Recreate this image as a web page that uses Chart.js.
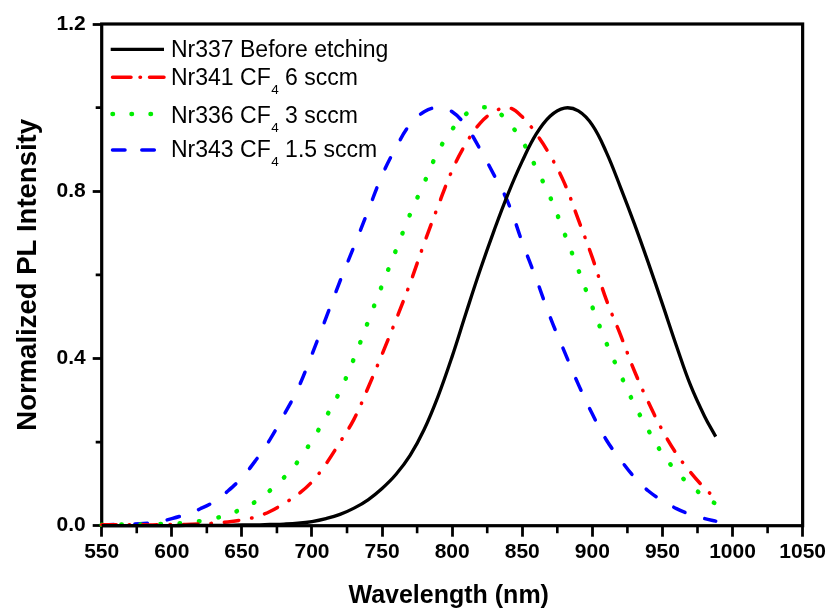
<!DOCTYPE html>
<html><head><meta charset="utf-8">
<script src="https://cdn.jsdelivr.net/npm/chart.js@4.4.0/dist/chart.umd.min.js"></script>
<style>html,body{margin:0;padding:0;background:#fff;overflow:hidden}</style>
</head><body>
<canvas id="c" width="829" height="609"></canvas>
<script>
// ---- data ----
const wavelengths = [550,560,570,580,590,600,610,620,630,640,650,660,670,680,690,700,710,720,730,740,750,760,770,780,790,800,810,820,830,840,850,860,870,880,890,900,910,920,930,940,950,960,970,980,988];
const nr337 = [0.000,0.000,0.000,0.000,0.000,0.000,0.001,0.001,0.001,0.001,0.002,0.002,0.003,0.004,0.006,0.010,0.017,0.027,0.042,0.062,0.089,0.123,0.168,0.230,0.310,0.405,0.510,0.612,0.707,0.795,0.872,0.937,0.980,0.999,0.992,0.958,0.893,0.810,0.722,0.628,0.530,0.430,0.336,0.262,0.213];
const nr341 = [0.002,0.002,0.002,0.002,0.002,0.003,0.003,0.004,0.006,0.009,0.014,0.021,0.034,0.053,0.075,0.105,0.148,0.200,0.255,0.330,0.410,0.493,0.580,0.675,0.765,0.850,0.915,0.963,0.990,1.000,0.978,0.937,0.885,0.820,0.732,0.641,0.540,0.457,0.370,0.295,0.228,0.172,0.128,0.090,0.065];
const nr336 = [0.002,0.003,0.003,0.003,0.004,0.005,0.007,0.011,0.017,0.027,0.040,0.058,0.084,0.115,0.154,0.204,0.260,0.322,0.400,0.488,0.575,0.660,0.745,0.820,0.895,0.948,0.985,1.000,0.995,0.965,0.920,0.855,0.785,0.700,0.612,0.523,0.437,0.362,0.290,0.228,0.172,0.130,0.096,0.070,0.052];
const nr343 = [0.002,0.003,0.004,0.005,0.009,0.017,0.027,0.040,0.057,0.083,0.115,0.157,0.206,0.265,0.328,0.410,0.497,0.585,0.668,0.753,0.838,0.905,0.960,0.990,1.000,0.990,0.955,0.900,0.838,0.772,0.678,0.590,0.498,0.417,0.338,0.267,0.205,0.158,0.116,0.083,0.060,0.041,0.027,0.017,0.011];
// legend labels: [main, subscript, rest]
const legendLabels = [["Nr337 Before etching","",""],["Nr341 CF","4"," 6 sccm"],["Nr336 CF","4"," 3 sccm"],["Nr343 CF","4"," 1.5 sccm"]];
const xTickValues = [550,600,650,700,750,800,850,900,950,1000,1050];
const xMinorValues = [575,625,675,725,775,825,875,925,975,1025];
const yTickValues = [0,0.4,0.8,1.2];
const yTickLabels = ["0.0","0.4","0.8","1.2"];
const yMinorValues = [0.2,0.6,1.0];
const xTitle = "Wavelength (nm) ";
const yTitle = "Normalized PL Intensity";

// ---- styles ----
const styles = [
  {color:'#000000', width:3.3, dash:[], legendDash:[]},
  {color:'#ff0000', width:3.5, dash:[14.5,13,0.5,13], legendDash:[18.5,9,0.5,9]},
  {color:'#00ee00', width:4.5, dash:[0.5,19], legendDash:[0.5,18.5]},
  {color:'#0000ff', width:3.5, dash:[12.5,20.5], legendDash:[12.5,16.8]}
];
const series = [nr337, nr341, nr336, nr343];

const FONT = '"Liberation Sans", Arial, sans-serif';

const framePlugin = {
  id:'frame',
  beforeDatasetsDraw(chart){
    const {ctx, chartArea:a, scales:{x,y}} = chart;
    ctx.save();
    ctx.strokeStyle = '#000';
    ctx.lineWidth = 3.2;
    ctx.strokeRect(a.left, a.top, a.right - a.left, a.bottom - a.top);
    ctx.lineWidth = 2.6;
    ctx.beginPath();
    xMinorValues.forEach(v => { const px = x.getPixelForValue(v); ctx.moveTo(px, a.bottom); ctx.lineTo(px, a.bottom + 7.5); });
    yMinorValues.forEach(v => { const py = y.getPixelForValue(v); ctx.moveTo(a.left, py); ctx.lineTo(a.left - 6, py); });
    ctx.stroke();
    ctx.restore();
  },
  afterDatasetsDraw(chart){
    const {ctx} = chart;
    const lineY = [49.3, 77.3, 114, 150];
    const baseY = [56.7, 85, 122.7, 157.3];
    ctx.save();
    styles.forEach((s, i) => {
      ctx.strokeStyle = s.color;
      ctx.lineWidth = s.width;
      ctx.lineCap = s.dash.length ? 'round' : 'butt';
      ctx.setLineDash(s.legendDash);
      ctx.beginPath();
      const x0 = s.dash.length ? 112.5 : 110.7;
      ctx.moveTo(x0, lineY[i]);
      ctx.lineTo(164, lineY[i]);
      ctx.stroke();
      ctx.setLineDash([]);
      const [main, sub, rest] = legendLabels[i];
      ctx.fillStyle = '#000';
      ctx.textBaseline = 'alphabetic';
      ctx.textAlign = 'left';
      ctx.font = '23px ' + FONT;
      let tx = 171;
      ctx.fillText(main, tx, baseY[i]);
      tx += ctx.measureText(main).width;
      if (sub) {
        ctx.font = '13.5px ' + FONT;
        ctx.fillText(sub, tx + 0.5, baseY[i] + 9);
        tx += ctx.measureText(sub).width + 0.5;
        ctx.font = '23px ' + FONT;
        ctx.fillText(rest, tx, baseY[i]);
      }
    });
    ctx.restore();
  }
};

new Chart(document.getElementById('c'), {
  type:'line',
  data:{
    datasets: series.map((arr, i) => ({
      label: legendLabels[i].join(''),
      data: wavelengths.map((w, j) => ({x:w, y:arr[j]})),
      borderColor: styles[i].color,
      backgroundColor: styles[i].color,
      borderWidth: styles[i].width,
      borderDash: styles[i].dash,
      borderCapStyle: styles[i].dash.length ? 'round' : 'butt',
      borderJoinStyle: 'round',
      pointRadius: 0,
      fill: false,
      tension: 0.4,
      clip: 8
    }))
  },
  options:{
    responsive:false,
    animation:false,
    devicePixelRatio:1,
    layout:{padding:{top:24, right:26.3, left:0, bottom:0}},
    plugins:{legend:{display:false}, tooltip:{enabled:false}},
    scales:{
      x:{
        type:'linear', min:550, max:1050,
        afterBuildTicks: s => { s.ticks = xTickValues.map(v => ({value:v})); },
        afterFit: s => { s.height = 83.3; },
        ticks:{color:'#000', font:{family:FONT, weight:'bold', size:21}, padding:3, maxRotation:0, autoSkip:false, callback:(v) => String(v)},
        grid:{drawOnChartArea:false, drawTicks:true, tickLength:11, tickWidth:2.8, tickColor:'#000'},
        border:{display:false},
        title:{display:true, text:xTitle, color:'#000', font:{family:FONT, weight:'bold', size:25, lineHeight:1}, padding:{top:0, bottom:0}}
      },
      y:{
        type:'linear', min:0, max:1.2,
        afterBuildTicks: s => { s.ticks = yTickValues.map(v => ({value:v})); },
        afterFit: s => { s.width = 101.7; },
        ticks:{color:'#000', font:{family:FONT, weight:'bold', size:21}, padding:7, callback:(v, i) => yTickLabels[i]},
        grid:{drawOnChartArea:false, drawTicks:true, tickLength:9, tickWidth:2.8, tickColor:'#000'},
        border:{display:false},
        title:{display:true, text:yTitle, color:'#000', font:{family:FONT, weight:'bold', size:27.5, lineHeight:1}, padding:{top:14.5, bottom:0}}
      }
    }
  },
  plugins:[framePlugin]
});
</script>
</body></html>
